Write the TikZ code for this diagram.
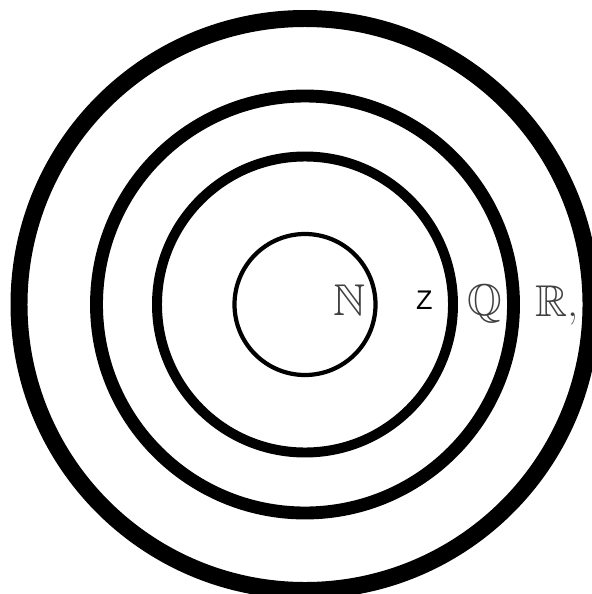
\documentclass[tikz,border=0pt]{standalone}
\usepackage{amssymb}
\usepackage{fontspec}
\setsansfont{Liberation Sans}
\usetikzlibrary{positioning}
\tikzset{
    ring/.style={draw=black, fill=none},
    set label/.style={anchor=base west, inner sep=0pt, text=black!75, font=\fontsize{38}{40}\selectfont},
    plain label/.style={anchor=base west, inner sep=0pt, font=\sffamily\fontsize{23}{26}\selectfont},
}

\begin{document}
\begin{tikzpicture}[x=0.03cm, y=-0.03cm]
        \useasboundingbox (0,0) rectangle (591,594);

        % Centre
        \coordinate (centre) at (305,304.5);

        % Rings
        \draw[ring, line width=14.5pt] (centre) circle (286);
        \draw[ring, line width=11pt] (centre) circle (208.5);
        \draw[ring, line width=8.5pt] (centre) circle (148);
        \draw[ring, line width=3.6pt] (centre) circle (70.5);

        % Labels
        \node[set label] (natural) at (333,315) {$\mathbb{N}$};
        \node[plain label] (integer) at (416,309) {Z};
        \node[set label] (rational) at (467,315) {$\mathbb{Q}$};
        \node[set label] (real) at (535,316) {$\mathbb{R}$,};
\end{tikzpicture}
\end{document}
